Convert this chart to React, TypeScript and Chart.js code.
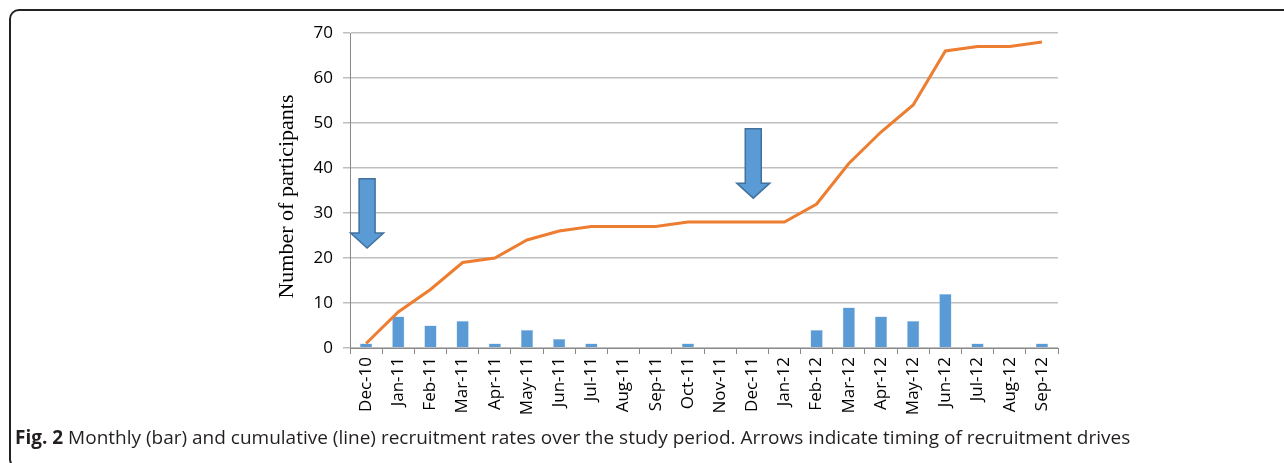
import React, { useEffect, useRef } from "react";
import { Chart, registerables } from "chart.js";

Chart.register(...registerables);

const categories = [
  "Dec-10", "Jan-11", "Feb-11", "Mar-11", "Apr-11", "May-11", "Jun-11", "Jul-11",
  "Aug-11", "Sep-11", "Oct-11", "Nov-11", "Dec-11", "Jan-12", "Feb-12", "Mar-12",
  "Apr-12", "May-12", "Jun-12", "Jul-12", "Aug-12", "Sep-12",
];
const monthly = [1, 7, 5, 6, 1, 4, 2, 1, 0, 0, 1, 0, 0, 0, 4, 9, 7, 6, 12, 1, 0, 1];
const cumulative = [1, 8, 13, 19, 20, 24, 26, 27, 27, 27, 28, 28, 28, 28, 32, 41, 48, 54, 66, 67, 67, 68];

const yMin = 0;
const yMax = 70;
const yStep = 10;

// recruitment drive arrows: category, shaft top value, tip value
const arrowCategories = ["Dec-10", "Dec-11"];
const arrowTops = [37.6, 48.7];
const arrowTips = [22.2, 33.3];

const yTitle = "Number of participants";
const captionBold = "Fig. 2";
const captionText =
  " Monthly (bar) and cumulative (line) recruitment rates over the study period. Arrows indicate timing of recruitment drives";

const arrowPlugin = {
  id: "arrows",
  afterDatasetsDraw(chart: any) {
    const { ctx, scales, chartArea } = chart;
    const xs = scales.x;
    const ys = scales.y;
    ctx.save();
    arrowCategories.forEach((cat, i) => {
      const idx = categories.indexOf(cat);
      const cx = xs.getPixelForValue(idx) + 1;
      const top = ys.getPixelForValue(arrowTops[i]);
      const tip = ys.getPixelForValue(arrowTips[i]);
      const headH = 15;
      const shaftHalf = 8;
      const headHalf = 16.5;
      const hs = tip - headH;
      ctx.beginPath();
      ctx.moveTo(cx - shaftHalf, top);
      ctx.lineTo(cx + shaftHalf, top);
      ctx.lineTo(cx + shaftHalf, hs);
      ctx.lineTo(cx + headHalf, hs);
      ctx.lineTo(cx, tip);
      ctx.lineTo(cx - headHalf, hs);
      ctx.lineTo(cx - shaftHalf, hs);
      ctx.closePath();
      ctx.fillStyle = "#5b9bd5";
      ctx.fill();
      ctx.lineWidth = 1.5;
      ctx.strokeStyle = "#41719c";
      ctx.stroke();
    });
    ctx.restore();

    // y-axis title
    ctx.save();
    ctx.translate(ys.left + 27, (chartArea.top + chartArea.bottom) / 2 + 6);
    ctx.rotate(-Math.PI / 2);
    ctx.font = "22px 'Liberation Serif', 'Times New Roman', serif";
    ctx.fillStyle = "#000";
    ctx.textAlign = "center";
    ctx.textBaseline = "middle";
    ctx.fillText(yTitle, 0, 0);
    ctx.restore();
  },
};

export default function App() {
  const ref = useRef<HTMLCanvasElement | null>(null);

  useEffect(() => {
    document.body.style.margin = "0";
    const canvas = ref.current;
    if (!canvas) return;
    const tickFont = { family: "'Open Sans', sans-serif", size: 17 };
    const chart = new Chart(canvas, {
      type: "bar",
      data: {
        labels: categories,
        datasets: [
          {
            type: "line",
            label: "Cumulative",
            data: cumulative,
            borderColor: "#ed7d31",
            backgroundColor: "#ed7d31",
            borderWidth: 3,
            pointRadius: 0,
            tension: 0,
            order: 1,
          } as any,
          {
            type: "bar",
            label: "Monthly",
            data: monthly,
            backgroundColor: "#5b9bd5",
            borderColor: "#9dc3e6",
            borderWidth: 0.5,
            categoryPercentage: 1,
            barPercentage: 0.38,
            order: 2,
          },
        ],
      },
      options: {
        responsive: false,
        animation: false,
        devicePixelRatio: 1,
        layout: { padding: { left: 260, right: 226, top: 33, bottom: 0 } },
        plugins: { legend: { display: false }, tooltip: { enabled: false } },
        scales: {
          x: {
            type: "category",
            offset: true,
            grid: {
              offset: true,
              drawOnChartArea: false,
              drawTicks: true,
              tickLength: 6,
              color: "#898989",
              lineWidth: 1,
            },
            border: { display: true, color: "#898989", width: 1 },
            ticks: {
              minRotation: 90,
              maxRotation: 90,
              autoSkip: false,
              padding: 3,
              color: "#000",
              font: tickFont,
            },
            afterFit: (s: any) => {
              s.height = 115;
            },
          },
          y: {
            min: yMin,
            max: yMax,
            ticks: { stepSize: yStep, padding: 10, color: "#000", font: tickFont },
            grid: { color: "#bfbfbf", lineWidth: 1.5, tickLength: 7, drawTicks: true },
            border: { display: true, color: "#898989", width: 1 },
            title: { display: false, text: yTitle },
            afterFit: (s: any) => {
              s.width = 90;
            },
          },
        },
      },
      plugins: [arrowPlugin],
    } as any);
    return () => chart.destroy();
  }, []);

  return (
    <div style={{ position: "relative", width: 1284, height: 463, overflow: "hidden", background: "#fff" }}>
      <div
        style={{
          position: "absolute",
          left: 9,
          top: 9,
          width: 1300,
          height: 456,
          border: "2px solid #222",
          borderRight: "none",
          borderRadius: "10px 0 0 10px",
          boxSizing: "content-box",
        }}
      />
      <canvas
        ref={ref}
        width={1284}
        height={463}
        style={{ position: "absolute", left: 0, top: 0, width: 1284, height: 463 }}
      />
      <div
        style={{
          position: "absolute",
          left: 15,
          top: 424,
          fontFamily: "'Open Sans', sans-serif",
          fontSize: 19,
          color: "#231f20",
          whiteSpace: "nowrap",
          lineHeight: "26px",
        }}
      >
        <b>{captionBold}</b>
        {captionText}
      </div>
    </div>
  );
}
